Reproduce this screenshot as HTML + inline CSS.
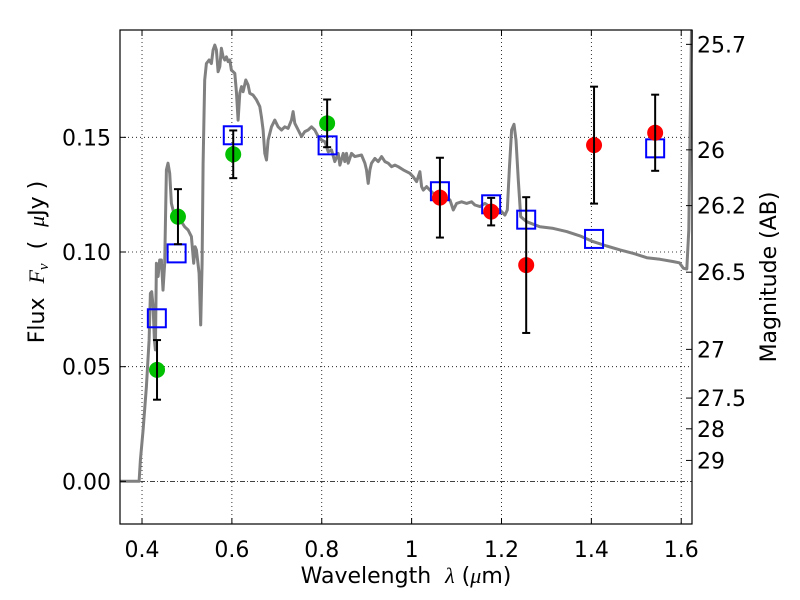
<!DOCTYPE html>
<html><head><meta charset="utf-8"><style>
body{margin:0;background:#fff}
svg{display:block;font-family:"DejaVu Sans","Liberation Sans",sans-serif}
text{white-space:pre}
</style></head><body>
<svg id="chart" width="800" height="600" viewBox="0 0 800 600"></svg>
<script>
const xTicks=[0.4,0.6,0.8,1.0,1.2,1.4,1.6];
const xTickLabels=["0.4","0.6","0.8","1","1.2","1.4","1.6"];
const yTicks=[0,0.05,0.10,0.15];
const yTickLabels=["0.00","0.05","0.10","0.15"];
const magTicks=[25.7,26,26.2,26.5,27,27.5,28,29];
const magTickLabels=["25.7","26","26.2","26.5","27","27.5","28","29"];
const specWl=[0.351,0.3934,0.3964,0.4023,0.4098,0.4157,0.4187,0.4216,0.4246,0.4276,0.4298,0.4320,0.4357,0.4394,0.4431,0.4468,0.4505,0.4542,0.4579,0.4617,0.4654,0.4728,0.4802,0.4876,0.4951,0.5025,0.5099,0.5151,0.5181,0.5210,0.5270,0.5307,0.5337,0.5359,0.5396,0.5433,0.5493,0.5545,0.5582,0.5619,0.5656,0.5693,0.5730,0.5767,0.5804,0.5842,0.5879,0.5916,0.5953,0.5990,0.6027,0.6064,0.6101,0.6139,0.6176,0.6213,0.6250,0.6309,0.6361,0.6398,0.6473,0.6547,0.6621,0.6658,0.6695,0.6732,0.6770,0.6807,0.6881,0.6955,0.7029,0.7104,0.7178,0.7252,0.7326,0.7363,0.7401,0.7475,0.7549,0.7623,0.7697,0.7772,0.7846,0.7920,0.7994,0.8069,0.8143,0.8217,0.8291,0.8366,0.8403,0.8477,0.8514,0.8551,0.8588,0.8663,0.8737,0.8885,0.8960,0.8997,0.9034,0.9071,0.9108,0.9183,0.9257,0.9331,0.9405,0.9479,0.9554,0.9628,0.9702,0.9814,0.9962,1.0036,1.0110,1.0147,1.0184,1.0222,1.0259,1.0333,1.0407,1.0481,1.0630,1.0778,1.0853,1.0927,1.1001,1.1112,1.1224,1.1335,1.1409,1.1521,1.1632,1.1743,1.1855,1.1966,1.2077,1.2129,1.2174,1.2226,1.2278,1.2323,1.2375,1.2427,1.2560,1.2857,1.3154,1.3451,1.3748,1.4045,1.4342,1.4639,1.4936,1.5233,1.5530,1.5827,1.5960,1.6049,1.6124,1.6168,1.6198,1.6228];
const specFlux=[0,0,0.0093,0.0224,0.0413,0.0616,0.0820,0.0827,0.0762,0.0616,0.0573,0.0951,0.0893,0.0965,0.0965,0.0834,0.0951,0.1358,0.1387,0.1343,0.1212,0.1154,0.1154,0.1132,0.1110,0.1096,0.1067,0.0951,0.1023,0.1009,0.0907,0.0682,0.0951,0.1387,0.1750,0.1822,0.1837,0.1822,0.1881,0.1902,0.1881,0.1786,0.1808,0.1888,0.1851,0.1837,0.1851,0.1830,0.1837,0.1793,0.1786,0.1779,0.1699,0.1575,0.1692,0.1721,0.1699,0.1750,0.1728,0.1692,0.1684,0.1663,0.1634,0.1590,0.1532,0.1430,0.1401,0.1488,0.1546,0.1575,0.1546,0.1532,0.1546,0.1539,0.1575,0.1612,0.1561,0.1532,0.1503,0.1525,0.1532,0.1546,0.1532,0.1503,0.1488,0.1481,0.1437,0.1445,0.1394,0.1430,0.1379,0.1430,0.1394,0.1430,0.1387,0.1430,0.1416,0.1423,0.1387,0.1358,0.1299,0.1358,0.1387,0.1408,0.1394,0.1416,0.1394,0.1387,0.1372,0.1379,0.1372,0.1358,0.1343,0.1328,0.1307,0.1328,0.1350,0.1285,0.1270,0.1285,0.1270,0.1256,0.1248,0.1234,0.1227,0.1183,0.1212,0.1219,0.1212,0.1219,0.1205,0.1198,0.1212,0.1198,0.1190,0.1183,0.1161,0.1183,0.1358,0.1532,0.1557,0.1488,0.1314,0.1154,0.1132,0.1110,0.1103,0.1089,0.1070,0.1045,0.1026,0.1009,0.0994,0.0975,0.0968,0.0958,0.0953,0.0929,0.0926,0.1096,0.1532,0.1968];
const modelWl=[0.433,0.477,0.602,0.813,1.063,1.177,1.255,1.406,1.542];
const modelFlux=[0.0711,0.0994,0.1509,0.1465,0.1265,0.1208,0.1141,0.1057,0.1452];
const greenWl=[0.4334,0.480,0.603,0.812];
const greenFlux=[0.0486,0.1154,0.1426,0.1561];
const greenErr=[0.013,0.012,0.0104,0.0104];
const redWl=[1.063,1.177,1.255,1.406,1.542];
const redFlux=[0.1237,0.1176,0.0943,0.1466,0.1520];
const redErr=[0.0174,0.006,0.0296,0.0255,0.0166];

const L=120,R=692,T=30,B=524;
const xmin=0.351,xmax=1.624,ymin=-0.0186,ymax=0.1968;
const sx=v=>L+(v-xmin)/(xmax-xmin)*(R-L);
const sy=v=>B-(v-ymin)/(ymax-ymin)*(B-T);
const magToFlux=m=>Math.pow(10,(23.9-m)/2.5);
const svg=document.getElementById('chart');
const NS='http://www.w3.org/2000/svg';
function mk(tag,attrs,parent){const e=document.createElementNS(NS,tag);for(const k in attrs)e.setAttribute(k,attrs[k]);(parent||svg).appendChild(e);return e;}

const grid=mk('g',{});


xTicks.forEach(v=>{mk('line',{x1:sx(v),x2:sx(v),y1:T,y2:B,stroke:'#000','stroke-width':0.8,'stroke-dasharray':'1,3'},grid);});
yTicks.forEach(v=>{if(v!==0)mk('line',{x1:L,x2:R,y1:sy(v),y2:sy(v),stroke:'#000','stroke-width':0.8,'stroke-dasharray':'1,3'},grid);});
const zl=mk('line',{x1:L,x2:R,y1:sy(0),y2:sy(0),stroke:'#000','stroke-width':0.8,'stroke-dasharray':'5,2,1,2'});



let d='';specWl.forEach((w,i)=>{d+=(i?'L':'M')+sx(w).toFixed(1)+','+sy(specFlux[i]).toFixed(1);});
const sp=mk('path',{d:d,fill:'none',stroke:'#808080','stroke-width':3,'stroke-linejoin':'round'});



modelWl.forEach((w,i)=>{const r=mk('rect',{x:sx(w)-9,y:sy(modelFlux[i])-9,width:18,height:18,fill:'none',stroke:'#0000ff','stroke-width':2});

});

function pts(wl,fl,er,col,name){wl.forEach((w,i)=>{const g=mk('g',{});


const x=sx(w),y1=sy(fl[i]-er[i]),y2=sy(fl[i]+er[i]);
mk('circle',{cx:x,cy:sy(fl[i]),r:8,fill:col},g);
mk('line',{x1:x,x2:x,y1:y1,y2:y2,stroke:'#000','stroke-width':2},g);
mk('line',{x1:x-4,x2:x+4,y1:y1,y2:y1,stroke:'#000','stroke-width':2},g);
mk('line',{x1:x-4,x2:x+4,y1:y2,y2:y2,stroke:'#000','stroke-width':2},g);});}
pts(greenWl,greenFlux,greenErr,'#00c000','optical-measurement');
pts(redWl,redFlux,redErr,'#ff0000','nir-measurement');

const fr=mk('rect',{x:L,y:T,width:R-L,height:B-T,fill:'none',stroke:'#000','stroke-width':1.2});



xTicks.forEach((v,i)=>{mk('line',{x1:sx(v),x2:sx(v),y1:B,y2:B-6,stroke:'#000'});mk('line',{x1:sx(v),x2:sx(v),y1:T,y2:T+6,stroke:'#000'});
const t=mk('text',{x:sx(v),y:557,'font-size':22,'text-anchor':'middle'});t.textContent=xTickLabels[i];

});
yTicks.forEach((v,i)=>{mk('line',{x1:L,x2:L+6,y1:sy(v),y2:sy(v),stroke:'#000'});
const t=mk('text',{x:111,y:sy(v)+8,'font-size':22,'text-anchor':'end'});t.textContent=yTickLabels[i];

});
magTicks.forEach((m,i)=>{const y=sy(magToFlux(m));mk('line',{x1:R-6,x2:R,y1:y,y2:y,stroke:'#000'});
const t=mk('text',{x:697,y:y+8,'font-size':22});t.textContent=magTickLabels[i];

});

const xl=mk('text',{x:406,y:583,'font-size':22,'text-anchor':'middle'});
xl.innerHTML='Wavelength  <tspan font-family="Liberation Serif" font-style="italic">λ</tspan> (<tspan font-family="Liberation Serif" font-style="italic">μ</tspan>m)';


const yl=mk('text',{x:0,y:0,'font-size':22,'text-anchor':'middle',transform:'translate(44,262) rotate(-90)'});
yl.innerHTML='Flux  <tspan font-family="Liberation Serif" font-style="italic">F<tspan font-size="15" dy="4">ν</tspan></tspan><tspan dy="-4">  (  </tspan><tspan font-family="Liberation Serif" font-style="italic">μ</tspan>Jy )';


const rl=mk('text',{x:0,y:0,'font-size':22,'text-anchor':'middle',transform:'translate(776,277) rotate(-90)'});
rl.textContent='Magnitude (AB)';


</script>
</body></html>
